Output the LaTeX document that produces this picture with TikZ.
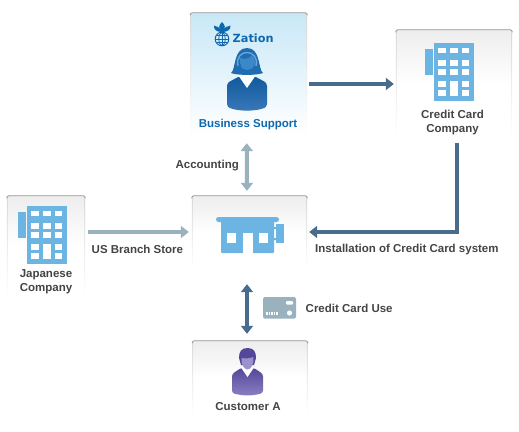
\documentclass[tikz,border=0pt]{standalone}
\usepackage{fontspec}
\setmainfont{Liberation Sans}
\newfontfamily\logofont{DejaVu Sans}
\usepackage{xcolor}
\usetikzlibrary{calc, positioning, arrows.meta}

\definecolor{iconblue}{HTML}{6CB5E3}
\definecolor{arrowlight}{HTML}{9AB1BE}
\definecolor{arrowdark}{HTML}{4A6C8C}
\definecolor{labelgray}{HTML}{444444}
\definecolor{supportblue}{HTML}{0F68AE}
\definecolor{supportsky}{HTML}{C8E8F7}
\definecolor{hairblue}{HTML}{1F6CB0}
\definecolor{bandblue}{HTML}{6AA6D8}
\definecolor{faceblue}{HTML}{3A88C8}
\definecolor{bodytop}{HTML}{0F5A9C}
\definecolor{bodybottom}{HTML}{3A78B8}
\definecolor{purpletop}{HTML}{54479A}
\definecolor{purplebottom}{HTML}{8B7FC2}
\definecolor{purpleface}{HTML}{9C91CC}

\tikzset{
    panel/.style={inner sep=0pt, minimum width=#1},
    flatpanel/.style={panel=115pt, shade, top color=black!7, bottom color=white, middle color=white},
    boxlabel/.style={font=\bfseries\fontsize{11.5}{14}\selectfont, text=labelgray, align=center, inner sep=0pt},
    lightline/.style={line width=4pt, draw=arrowlight, arrows={-Triangle[length=8pt,width=12pt]}},
    darkline/.style={line width=4pt, draw=arrowdark, arrows={-Triangle[length=8pt,width=12pt]}},
    bothtips/.style={arrows={Triangle[length=8pt,width=12pt]-Triangle[length=8pt,width=12pt]}},
}

% Viền trên và hai cạnh mờ dần của khung
\newcommand{\panelframe}[1]{
    \shade[top color=black!15, bottom color=white] ([yshift=-2pt]#1.north west) rectangle ([xshift=0.8pt]#1.south west);
    \shade[top color=black!15, bottom color=white] ([xshift=-0.8pt,yshift=-2pt]#1.north east) rectangle (#1.south east);
    \draw[black!42, line width=0.8pt, rounded corners=2pt] ([yshift=-2.5pt]#1.north west) -- (#1.north west) -- (#1.north east) -- ([yshift=-2.5pt]#1.north east);
}

% Tòa nhà: (#1,#2) là góc trên trái của khối chính
\newcommand{\buildingicon}[2]{
    \begin{scope}[shift={(#1,#2)}]
        \fill[iconblue] (-9,6) rectangle (-1,32);
        \fill[iconblue] (0,0) rectangle (39.5,57.5);
        \foreach \wx in {4,16,27.5}
            \foreach \wy in {4.5,17,26,38,47}
                \fill[white] (\wx,\wy) rectangle ++(7.5,5.5);
        \fill[white] (16,38) rectangle (23.5,53);
    \end{scope}
}

\begin{document}
\begin{tikzpicture}[>=latex, x=1pt, y=-1pt]
    \useasboundingbox (0,0) rectangle (519,431);

    % Các khung
    \node[panel=116.5pt, minimum height=122pt, shade, top color=supportsky, bottom color=white] (support) at (248.75,74) {};
    \node[panel=116pt, minimum height=106pt, shade, top color=black!7, bottom color=white, middle color=white] (card) at (454,83) {};
    \node[panel=78pt, minimum height=100pt, shade, top color=black!7, bottom color=white, middle color=white] (japan) at (46,246) {};
    \node[flatpanel, minimum height=74pt] (store) at (249.5,233) {};
    \node[flatpanel, minimum height=73pt] (customer) at (250,377.5) {};
    \foreach \boxname in {support,card,japan,store,customer} {
        \panelframe{\boxname}
    }

    % Biểu tượng Zation
    \draw[supportblue, line width=1pt] (222,39) circle (6.8);
    \draw[supportblue, line width=0.8pt] (215.4,39) -- (228.6,39) (222,32.4) -- (222,45.6)
        (216.5,35.5) -- (227.5,35.5) (216.5,42.5) -- (227.5,42.5);
    \draw[supportblue, line width=0.8pt] (222,39) ellipse (3.2 and 6.6);
    \fill[supportblue] (222,32) .. controls (217.5,28) and (219,25) .. (222,22) .. controls (225,25) and (226.5,28) .. (222,32);
    \fill[supportblue] (222,32) .. controls (220,26) and (216,27) .. (214,25.5) .. controls (213.5,30) and (217,32) .. (222,32);
    \fill[supportblue] (222,32) .. controls (224,26) and (228,27) .. (230.5,25.5) .. controls (231,30) and (227,32) .. (222,32);
    \node[font=\logofont\bfseries\fontsize{11.3}{12}\selectfont, text=supportblue, anchor=west, inner sep=0pt] (zation) at (232.5,38) {Zation};

    % Nhân viên hỗ trợ
    \shade[top color=bodytop, bottom color=bodybottom, rounded corners=3pt]
        (227,83) -- (240,76) -- (254,76) -- (267,83) -- (267,107) .. controls (255,111.5) and (239,111.5) .. (227,107) -- cycle;
    \fill[white] (238,75) -- (247,88) -- (256,75) -- cycle;
    \fill[hairblue] (231,73) .. controls (236,70) and (233,48) .. (247,48) .. controls (261,48) and (258,70) .. (263,73) .. controls (257,75.5) and (237,75.5) .. (231,73) -- cycle;
    \fill[faceblue] (247,70) .. controls (241,70) and (239,64) .. (240,58) .. controls (245,60) and (250,58) .. (252,55) .. controls (255,58) and (256,64) .. (254,66) .. controls (252,69) and (250,70) .. (247,70) -- cycle;
    \draw[bandblue, line width=1.4pt] (238,66) .. controls (234,48) and (260,48) .. (256,66);
    \draw[hairblue, line width=0.9pt] (240,64) .. controls (240,70) and (243,72) .. (248,72);

    % Cửa hàng
    \fill[iconblue, rounded corners=1pt] (221,220) rectangle (274,253);
    \fill[iconblue, rounded corners=2.5pt] (216,217) rectangle (279,222);
    \fill[iconblue] (276,224) rectangle (284,243);
    \fill[iconblue] (273.5,227) rectangle (276,229) (273.5,238) rectangle (276,240);
    \fill[white] (227,233) rectangle (236,242.5);
    \fill[white] (243,233) rectangle (253,253.5);
    \fill[white] (258.5,233) rectangle (268,242.5);

    \buildingicon{27}{206}
    \buildingicon{434}{43}

    % Khách hàng
    \shade[top color=purpletop, bottom color=purplebottom, rounded corners=2.5pt]
        (232,374) -- (241,368) -- (254,368) -- (263,374) -- (263,393) .. controls (252,396) and (243,396) .. (232,393) -- cycle;
    \fill[white] (241,367.5) -- (247.5,377) -- (254,367.5) -- cycle;
    \fill[purpletop] (247.5,348) .. controls (254,348) and (256,352) .. (256,358) -- (254,365) -- (241,365) -- (239,358) .. controls (239,352) and (241,348) .. (247.5,348) -- cycle;
    \fill[purpleface] (241.5,358) .. controls (246,359) and (250,358) .. (253.5,357) .. controls (254,364) and (251,369.5) .. (247.5,369.5) .. controls (244,369.5) and (241,364) .. (241.5,358) -- cycle;

    % Thẻ tín dụng
    \fill[arrowlight, rounded corners=1.5pt] (263,297) rectangle (296,318.5);
    \fill[white, rounded corners=1pt] (286,301) rectangle (293,304.5);
    \fill[white] (289.5,313) circle (2.6);
    \foreach \wx in {266,268.5,271,273.5,276}
        \fill[white] (\wx,312) rectangle ++(1.5,3);

    % Các nhãn
    \node[boxlabel, text=supportblue] (supportlabel) at (248,124.2) {Business Support};
    \node[boxlabel] (cardlabel) at (452.5,122.2) {Credit Card\\Company};
    \node[boxlabel] (japanlabel) at (46,281.7) {Japanese\\Company};
    \node[boxlabel] (customerlabel) at (248,406.2) {Customer A};
    \node[boxlabel, anchor=east] (accounting) at (239,166) {Accounting};
    \node[boxlabel, anchor=west] (branch) at (91.5,249.5) {US Branch Store};
    \node[boxlabel, anchor=west] (install) at (315,249.5) {Installation of Credit Card system};
    \node[boxlabel, anchor=west] (cardstep) at (305.5,308) {Credit Card Use};

    % Các mũi tên
    \draw[darkline] ([xshift=2pt,yshift=-10pt]support.east) -- ([xshift=-2pt]card.west |- 0,84);
    \draw[lightline, bothtips] ([xshift=-2pt,yshift=-8pt]support.south) -- ([xshift=-2.5pt,yshift=5pt]store.north);
    \draw[lightline] ([xshift=3pt]japan.east |- 0,232) -- ([xshift=-3pt]store.west |- 0,232);
    \draw[darkline, bothtips] ([xshift=-2.5pt,yshift=-14pt]store.south) -- ([xshift=-3pt,yshift=7pt]customer.north);
    \draw[darkline] ([xshift=3pt,yshift=-7pt]card.south) |- ([xshift=2pt]store.east |- 0,232);
\end{tikzpicture}
\end{document}
